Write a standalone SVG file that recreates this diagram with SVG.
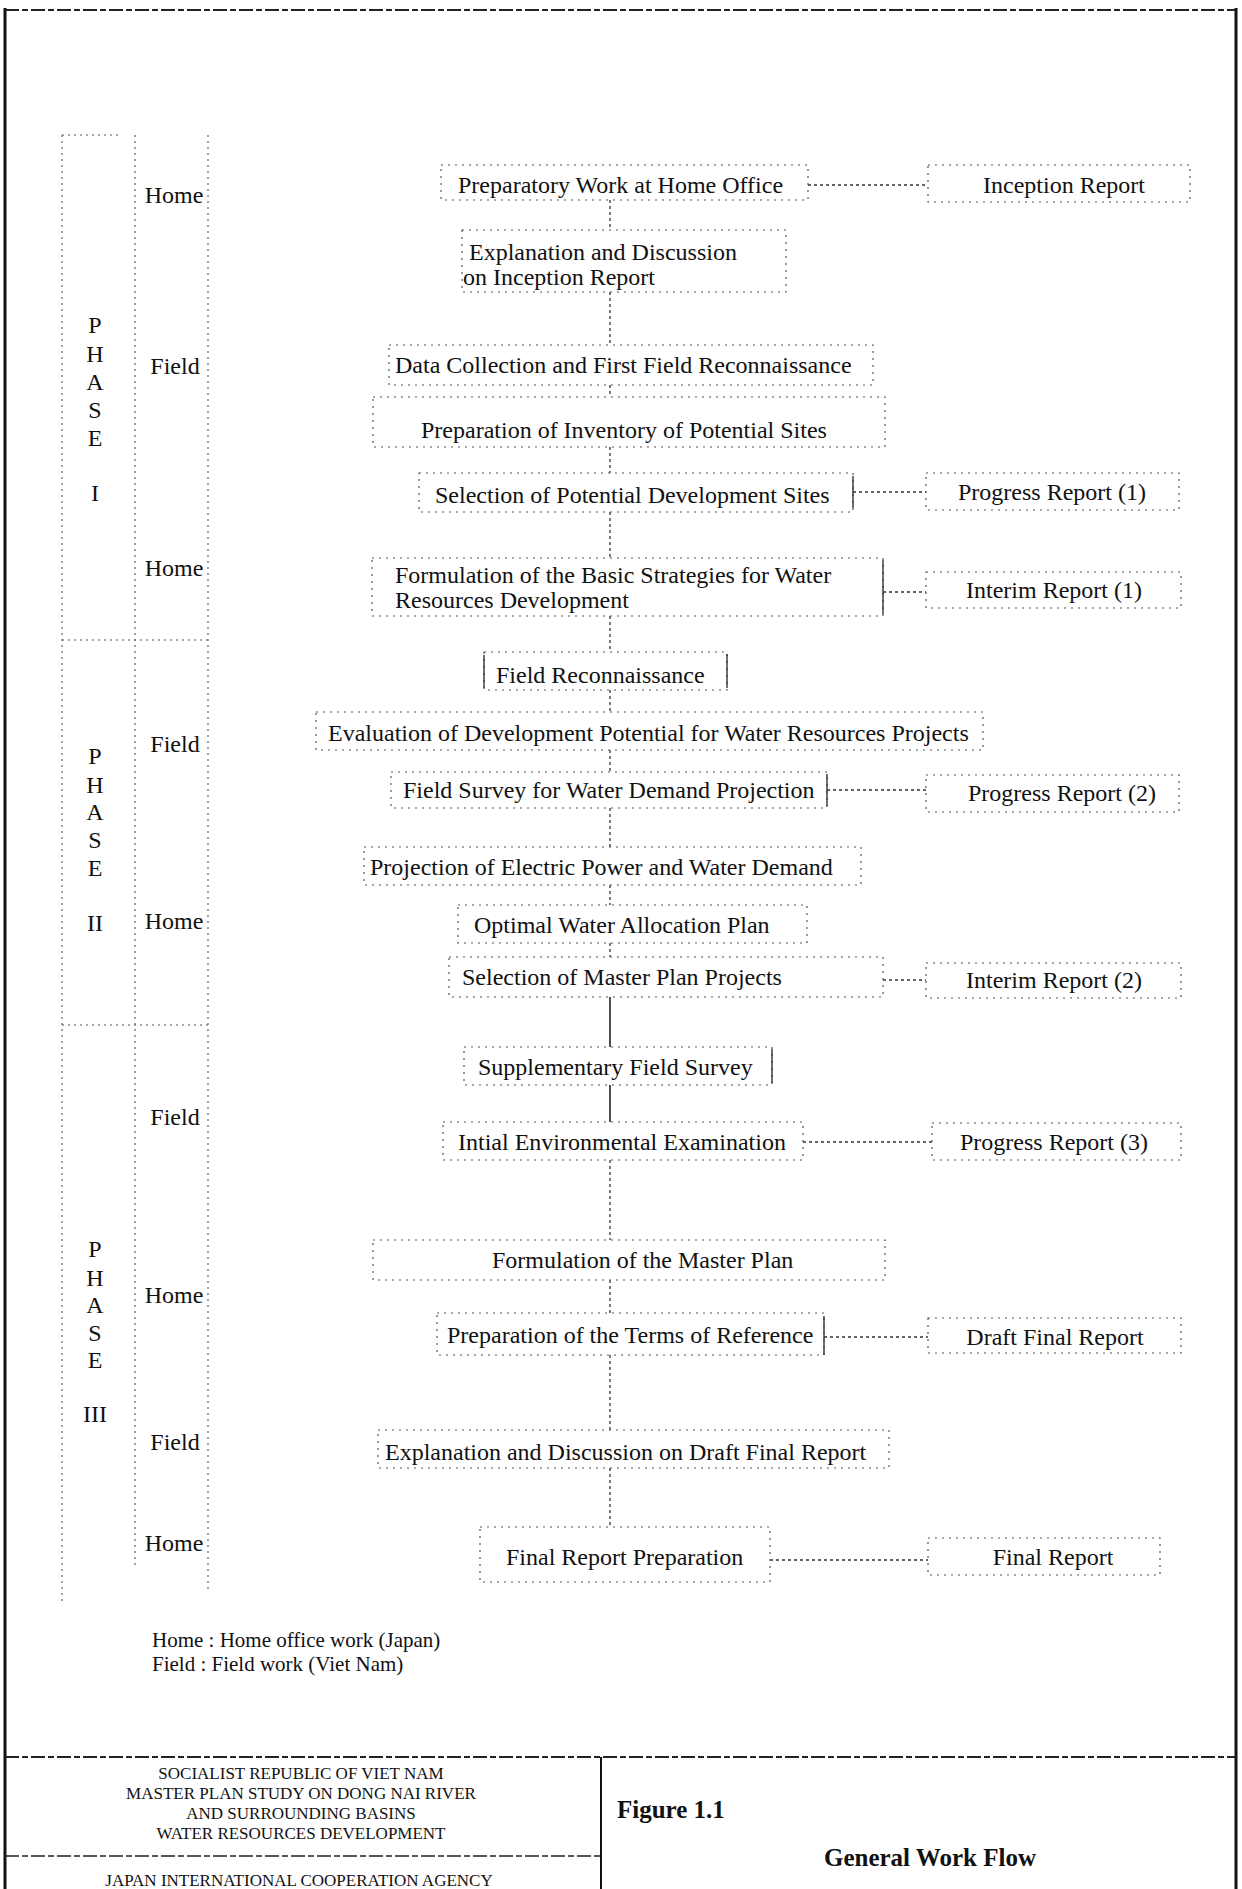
<svg xmlns="http://www.w3.org/2000/svg" width="1242" height="1889" viewBox="0 0 1242 1889">
<style>
.t{font-family:"Liberation Serif","Times New Roman",serif;font-size:24px;fill:#111}
.m{text-anchor:middle}
.box{fill:none;stroke:#555;stroke-width:1.2;stroke-dasharray:2 5}
.edge{stroke:#333;stroke-width:1.4}
.conn{fill:none;stroke:#333;stroke-width:1.3;stroke-dasharray:3 3}
.solid{fill:none;stroke:#222;stroke-width:1.6}
.grid{fill:none;stroke:#555;stroke-width:1.1;stroke-dasharray:2 4}
.frame{fill:none;stroke:#111;stroke-width:3}
.tb{font-family:"Liberation Serif","Times New Roman",serif;font-size:17px;fill:#111;text-anchor:middle}
.big{font-family:"Liberation Serif","Times New Roman",serif;font-size:25px;font-weight:bold;fill:#111}
.leg{font-family:"Liberation Serif","Times New Roman",serif;font-size:21px;fill:#111}
</style>
<rect width="1242" height="1889" fill="#fff"/>

<g id="frame">
<line class="frame" x1="5" y1="8" x2="5" y2="1889"/>
<line class="frame" x1="1236" y1="8" x2="1236" y2="1889"/>
<line x1="5" y1="10" x2="1236" y2="10" stroke="#222" stroke-width="2" stroke-dasharray="14 3 6 3"/>
</g>

<g id="lanes">
<line class="grid" x1="62" y1="135" x2="62" y2="1605"/>
<line class="grid" x1="135" y1="135" x2="135" y2="1565"/>
<line class="grid" x1="208" y1="135" x2="208" y2="1590"/>
<line class="grid" x1="62" y1="135" x2="120" y2="135"/>
<line class="grid" x1="62" y1="640" x2="208" y2="640"/>
<line class="grid" x1="62" y1="1025" x2="208" y2="1025"/>
</g>

<g id="phase1" class="t m">
<text x="95" y="333">P</text><text x="95" y="362">H</text><text x="95" y="390">A</text><text x="95" y="418">S</text><text x="95" y="446">E</text><text x="95" y="501">I</text>
</g>
<g id="phase2" class="t m">
<text x="95" y="764">P</text><text x="95" y="793">H</text><text x="95" y="820">A</text><text x="95" y="848">S</text><text x="95" y="876">E</text><text x="95" y="931">II</text>
</g>
<g id="phase3" class="t m">
<text x="95" y="1257">P</text><text x="95" y="1286">H</text><text x="95" y="1313">A</text><text x="95" y="1341">S</text><text x="95" y="1368">E</text><text x="95" y="1422">III</text>
</g>

<g id="lane-labels" class="t m">
<text x="174" y="203">Home</text>
<text x="175" y="374">Field</text>
<text x="174" y="576">Home</text>
<text x="175" y="752">Field</text>
<text x="174" y="929">Home</text>
<text x="175" y="1125">Field</text>
<text x="174" y="1303">Home</text>
<text x="175" y="1450">Field</text>
<text x="174" y="1551">Home</text>
</g>

<g id="connectors">
<line class="conn" x1="610" y1="200" x2="610" y2="230"/>
<line class="conn" x1="610" y1="292" x2="610" y2="345"/>
<line class="conn" x1="610" y1="385" x2="610" y2="397"/>
<line class="conn" x1="610" y1="447" x2="610" y2="473"/>
<line class="conn" x1="610" y1="512" x2="610" y2="558"/>
<line class="conn" x1="610" y1="616" x2="610" y2="652"/>
<line class="conn" x1="610" y1="690" x2="610" y2="712"/>
<line class="conn" x1="610" y1="750" x2="610" y2="772"/>
<line class="conn" x1="610" y1="808" x2="610" y2="847"/>
<line class="conn" x1="610" y1="885" x2="610" y2="905"/>
<line class="conn" x1="610" y1="943" x2="610" y2="957"/>
<line class="solid" x1="610" y1="997" x2="610" y2="1047"/>
<line class="solid" x1="610" y1="1085" x2="610" y2="1122"/>
<line class="conn" x1="610" y1="1160" x2="610" y2="1240"/>
<line class="conn" x1="610" y1="1280" x2="610" y2="1313"/>
<line class="conn" x1="610" y1="1355" x2="610" y2="1430"/>
<line class="conn" x1="610" y1="1468" x2="610" y2="1527"/>
<line class="conn" x1="808" y1="185" x2="928" y2="185"/>
<line class="conn" x1="853" y1="492" x2="926" y2="492"/>
<line class="conn" x1="883" y1="592" x2="926" y2="592"/>
<line class="conn" x1="827" y1="790" x2="926" y2="790"/>
<line class="conn" x1="883" y1="980" x2="926" y2="980"/>
<line class="conn" x1="803" y1="1142" x2="932" y2="1142"/>
<line class="conn" x1="824" y1="1337" x2="928" y2="1337"/>
<line class="conn" x1="770" y1="1560" x2="928" y2="1560"/>
</g>

<g id="prep"><rect class="box" x="441" y="165" width="367" height="35"/><text class="t" x="458" y="193">Preparatory Work at Home Office</text></g>
<g id="inception"><rect class="box" x="928" y="165" width="262" height="37"/><text class="t m" x="1064" y="193">Inception Report</text></g>
<g id="expl-inception"><rect class="box" x="462" y="230" width="324" height="62"/><text class="t" x="469" y="260">Explanation and Discussion</text><text class="t" x="463" y="285">on Inception Report</text></g>
<g id="data-collection"><rect class="box" x="389" y="345" width="484" height="40"/><text class="t" x="395" y="373">Data Collection and First Field Reconnaissance</text></g>
<g id="inventory"><rect class="box" x="373" y="397" width="512" height="50"/><text class="t" x="421" y="438">Preparation of Inventory of Potential Sites</text></g>
<g id="sel-potential"><rect class="box" x="419" y="473" width="434" height="39"/><line class="edge" x1="853" y1="476" x2="853" y2="508"/><text class="t" x="435" y="503">Selection of Potential Development Sites</text></g>
<g id="progress1"><rect class="box" x="926" y="473" width="253" height="37"/><text class="t m" x="1052" y="500">Progress Report (1)</text></g>
<g id="basic-strategies"><rect class="box" x="372" y="558" width="511" height="58"/><line class="edge" x1="883" y1="560" x2="883" y2="614"/><text class="t" x="395" y="583">Formulation of the Basic Strategies for Water</text><text class="t" x="395" y="608">Resources Development</text></g>
<g id="interim1"><rect class="box" x="926" y="572" width="255" height="36"/><text class="t m" x="1054" y="598">Interim Report (1)</text></g>
<g id="field-recon"><rect class="box" x="484" y="652" width="243" height="38"/><line class="edge" x1="484" y1="655" x2="484" y2="688"/><line class="edge" x1="727" y1="654" x2="727" y2="688"/><text class="t" x="496" y="683">Field Reconnaissance</text></g>
<g id="evaluation"><rect class="box" x="316" y="712" width="667" height="38"/><text class="t" x="328" y="741">Evaluation of Development Potential for Water Resources Projects</text></g>
<g id="field-survey"><rect class="box" x="391" y="772" width="436" height="36"/><line class="edge" x1="827" y1="774" x2="827" y2="806"/><text class="t" x="403" y="798">Field Survey for Water Demand Projection</text></g>
<g id="progress2"><rect class="box" x="926" y="775" width="253" height="37"/><text class="t m" x="1062" y="801">Progress Report (2)</text></g>
<g id="projection"><rect class="box" x="364" y="847" width="497" height="38"/><text class="t" x="370" y="875">Projection of Electric Power and Water Demand</text></g>
<g id="optimal"><rect class="box" x="458" y="905" width="349" height="38"/><text class="t" x="474" y="933">Optimal Water Allocation Plan</text></g>
<g id="sel-master"><rect class="box" x="449" y="957" width="434" height="40"/><text class="t" x="462" y="985">Selection of Master Plan  Projects</text></g>
<g id="interim2"><rect class="box" x="926" y="963" width="255" height="35"/><text class="t m" x="1054" y="988">Interim Report (2)</text></g>
<g id="supplementary"><rect class="box" x="464" y="1047" width="308" height="38"/><line class="edge" x1="772" y1="1049" x2="772" y2="1083"/><text class="t" x="478" y="1075">Supplementary Field Survey</text></g>
<g id="iee"><rect class="box" x="443" y="1122" width="360" height="38"/><text class="t" x="458" y="1150">Intial Environmental Examination</text></g>
<g id="progress3"><rect class="box" x="932" y="1123" width="249" height="37"/><text class="t m" x="1054" y="1150">Progress Report (3)</text></g>
<g id="master-plan"><rect class="box" x="373" y="1240" width="512" height="40"/><text class="t" x="492" y="1268">Formulation of the Master Plan</text></g>
<g id="tor"><rect class="box" x="437" y="1313" width="387" height="42"/><line class="edge" x1="824" y1="1316" x2="824" y2="1355"/><text class="t" x="447" y="1343">Preparation of the Terms of Reference</text></g>
<g id="draft-final"><rect class="box" x="928" y="1318" width="253" height="35"/><text class="t m" x="1055" y="1345">Draft Final Report</text></g>
<g id="expl-draft"><rect class="box" x="378" y="1430" width="511" height="38"/><text class="t" x="385" y="1460">Explanation and Discussion on Draft Final Report</text></g>
<g id="final-prep"><rect class="box" x="480" y="1527" width="290" height="55"/><text class="t" x="506" y="1565">Final Report Preparation</text></g>
<g id="final-report"><rect class="box" x="928" y="1538" width="232" height="37"/><text class="t m" x="1053" y="1565">Final Report</text></g>

<g id="legend">
<text class="leg" x="152" y="1647">Home : Home office work (Japan)</text>
<text class="leg" x="152" y="1671">Field  : Field work (Viet Nam)</text>
</g>

<g id="title-block">
<line x1="5" y1="1757" x2="1236" y2="1757" stroke="#222" stroke-width="2" stroke-dasharray="14 3 6 3"/>
<line x1="601" y1="1757" x2="601" y2="1889" stroke="#111" stroke-width="2"/>
<line x1="5" y1="1856" x2="601" y2="1856" stroke="#222" stroke-width="1.6" stroke-dasharray="14 3 6 3"/>
<text class="tb" x="301" y="1779">SOCIALIST REPUBLIC OF VIET NAM</text>
<text class="tb" x="301" y="1799">MASTER PLAN STUDY ON DONG NAI RIVER</text>
<text class="tb" x="301" y="1819">AND SURROUNDING BASINS</text>
<text class="tb" x="301" y="1839">WATER RESOURCES DEVELOPMENT</text>
<text class="tb" x="299" y="1886">JAPAN INTERNATIONAL COOPERATION AGENCY</text>
<text class="big" x="617" y="1818">Figure 1.1</text>
<text class="big m" x="930" y="1866">General Work Flow</text>
</g>
</svg>
